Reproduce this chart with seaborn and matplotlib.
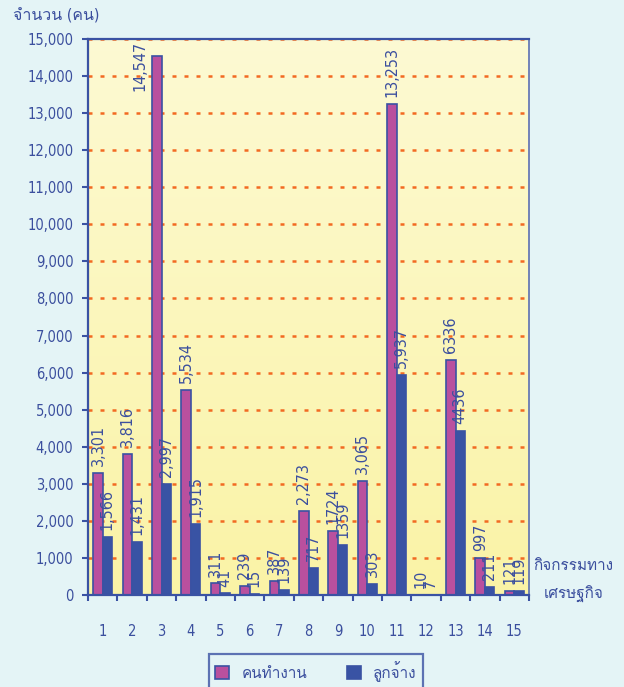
import numpy as np
import pandas as pd
import matplotlib
matplotlib.use('Agg')
import matplotlib.pyplot as plt
import seaborn as sns
from matplotlib import font_manager
from matplotlib.ft2font import FT2Font
from matplotlib.patches import Patch
from matplotlib.ticker import FuncFormatter, FixedLocator

# ----------------------------------------
# Data
# ----------------------------------------
sectors = [str(i) for i in range(1, 16)]
workers = [3301, 3816, 14547, 5534, 311, 239, 387, 2273, 1724, 3065, 13253, 10, 6336, 997, 121]
employees = [1566, 1431, 2997, 1915, 41, 15, 139, 717, 1359, 303, 5937, 7, 4436, 211, 119]
worker_labels = ['3,301', '3,816', '14,547', '5,534', '311', '239', '387', '2,273',
                 '1724', '3,065', '13,253', '10', '6336', '997', '121']
employee_labels = ['1,566', '1,431', '2,997', '1,915', '41', '15', '139', '717',
                   '1359', '303', '5,937', '7', '4436', '211', '119']
groups = ['คนทำงาน', 'ลูกจ้าง']
y_ticks = list(range(0, 15001, 1000))

df = pd.DataFrame({
    'sector': sectors * 2,
    'group': [groups[0]] * 15 + [groups[1]] * 15,
    'count': workers + employees,
})
label_text = {0: worker_labels, 1: employee_labels}

# colours
bg = '#E4F4F6'
navy = '#3A52A3'
text_blue = '#3B4F9E'
pink = '#B9509E'
bar_blue = '#3953A4'
orange = '#F26A22'


def find_thai_font():
    for f in font_manager.fontManager.ttflist:
        try:
            if 0x0E08 in FT2Font(f.fname).get_charmap():
                return f.name
        except Exception:
            pass
    return None


sns.set_theme(style='white')
thai = find_thai_font()
fams = ['DejaVu Sans'] + ([thai] if thai else [])
plt.rcParams['font.family'] = fams
plt.rcParams['font.stretch'] = 'condensed'

fig = plt.figure(figsize=(6.24, 6.87), dpi=100, facecolor=bg)
ax = fig.add_axes([88 / 624, 1 - 595 / 687, 441 / 624, 556 / 687])
ax.patch.set_visible(False)

# yellow gradient background of the plot area
grad = np.linspace(0, 1, 256).reshape(-1, 1)
cmap = matplotlib.colors.LinearSegmentedColormap.from_list('yel', ['#FDFAD3', '#FAF3A6'])
ax.imshow(grad, extent=[0, 1, 0, 1], transform=ax.transAxes, cmap=cmap,
          aspect='auto', zorder=0, origin='upper')

sns.barplot(data=df, x='sector', y='count', hue='group', hue_order=groups,
            palette=[pink, bar_blue], width=0.64, gap=0, edgecolor=navy,
            linewidth=1.2, legend=False, ax=ax, zorder=2, saturation=1)

ax.set_xlim(-0.5, 14.5)
ax.set_ylim(0, 15000)
ax.set_xlabel('')
ax.set_ylabel('')

# dashed grid
for v in y_ticks[1:]:
    ax.axhline(v, color=orange, lw=1.8, dashes=(1.6, 3.2), zorder=1)

# value labels
for gi, cont in enumerate(ax.containers):
    for i, bar in enumerate(cont):
        h = bar.get_height()
        xc = bar.get_x() + bar.get_width() / 2
        if h > 14000:
            ax.annotate(label_text[gi][i], (xc, h), xytext=(-12, -7),
                        textcoords='offset points', rotation=90, ha='center',
                        va='center', fontsize=11.5, color=text_blue, zorder=5)
        else:
            ax.annotate(label_text[gi][i], (xc, h), xytext=(0, 5),
                        textcoords='offset points', rotation=90, ha='center',
                        va='bottom', fontsize=11.5, color=text_blue, zorder=5)

# axes styling
ax.set_yticks(y_ticks)
ax.yaxis.set_major_formatter(FuncFormatter(lambda v, p: f'{int(v):,}'))
ax.tick_params(axis='y', direction='out', length=4.5, width=1.5, color=navy,
               labelcolor=text_blue, labelsize=10.5, pad=6, left=True)
ax.xaxis.set_minor_locator(FixedLocator(np.arange(-0.5, 15, 1)))
ax.tick_params(axis='x', which='major', length=0, pad=21, labelcolor=text_blue, labelsize=10.5)
ax.tick_params(axis='x', which='minor', direction='out', length=4.5, width=1.5,
               color=navy, bottom=True)
for side in ['left', 'bottom', 'top']:
    ax.spines[side].set_color(navy)
    ax.spines[side].set_linewidth(1.6)
ax.spines['right'].set_color('#5A6FB5')
ax.spines['right'].set_linewidth(1.2)
for s in ax.spines.values():
    s.set_zorder(6)

# titles / side texts
fig.text(13 / 624, 1 - 16 / 687, 'จำนวน (คน)', ha='left', va='center',
         fontsize=11.5, color=text_blue)
fig.text(573 / 624, 1 - 566 / 687, 'กิจกรรมทาง', ha='center', va='center',
         fontsize=11, color=text_blue)
fig.text(574 / 624, 1 - 594 / 687, 'เศรษฐกิจ', ha='center', va='center',
         fontsize=11, color=text_blue)

handles = [Patch(facecolor=pink, edgecolor=navy, linewidth=1.2),
           Patch(facecolor=bar_blue, edgecolor=navy, linewidth=1.2)]
leg = fig.legend(handles, groups, loc='upper center', bbox_to_anchor=(316 / 624, 1 - 654 / 687),
                 borderaxespad=0, ncol=2, frameon=True, fancybox=False, facecolor=bg,
                 edgecolor=navy, fontsize=11, handlelength=0.9, handleheight=0.9,
                 columnspacing=2.6, borderpad=0.45, labelcolor=text_blue)
leg.get_frame().set_linewidth(1.6)

fig.savefig('out.png', dpi=100, facecolor=bg)
